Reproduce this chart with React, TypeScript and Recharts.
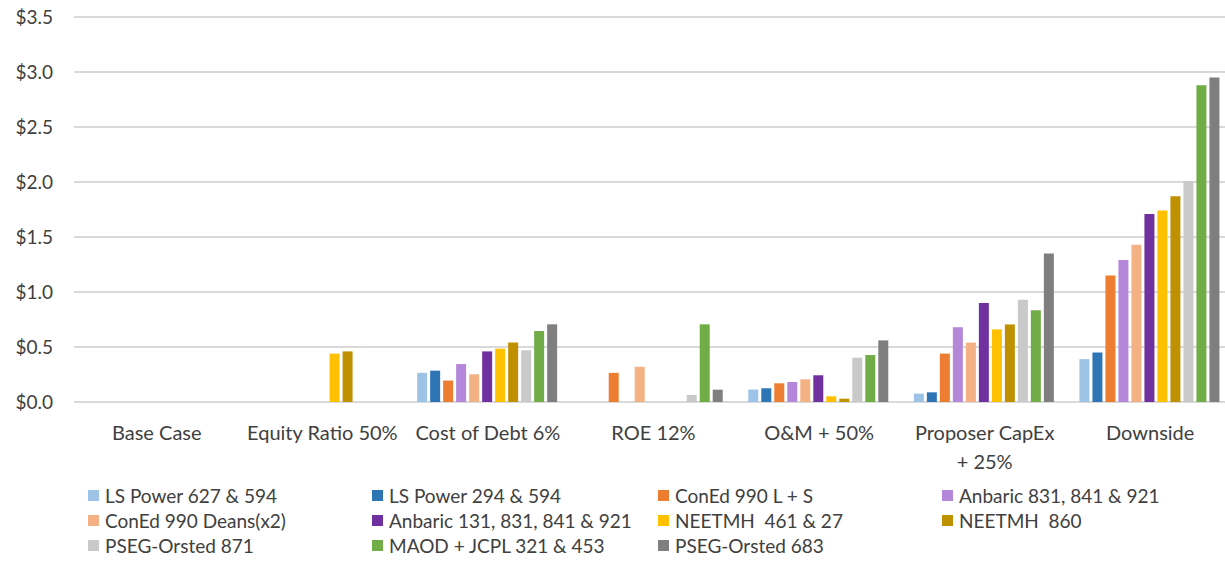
import React from 'react';
import { BarChart, Bar, XAxis, YAxis, CartesianGrid } from 'recharts';

const categories = [
  'Base Case',
  'Equity Ratio 50%',
  'Cost of Debt 6%',
  'ROE 12%',
  'O&M + 50%',
  'Proposer CapEx + 25%',
  'Downside',
];

const yTicks = [0, 0.5, 1, 1.5, 2, 2.5, 3, 3.5];

// values per scenario, in category order (null = no bar)
const lsPower627 = [null, null, 0.265, null, 0.113, 0.076, 0.39];
const lsPower294 = [null, null, 0.285, null, 0.125, 0.088, 0.45];
const conEdLS = [null, null, 0.195, 0.265, 0.17, 0.44, 1.15];
const anbaric831 = [null, null, 0.345, null, 0.182, 0.68, 1.29];
const conEdDeans = [null, null, 0.252, 0.32, 0.206, 0.54, 1.43];
const anbaric131 = [null, null, 0.46, null, 0.243, 0.9, 1.71];
const neetmh461 = [null, 0.44, 0.485, null, 0.052, 0.66, 1.74];
const neetmh860 = [null, 0.46, 0.54, null, 0.03, 0.705, 1.87];
const pseg871 = [null, null, 0.47, 0.064, 0.403, 0.93, 2.01];
const maod = [null, null, 0.645, 0.706, 0.427, 0.835, 2.88];
const pseg683 = [null, null, 0.706, 0.112, 0.56, 1.35, 2.95];

const series = [
  { key: 'lsPower627', name: 'LS Power 627 & 594', color: '#9dc3e6', values: lsPower627 },
  { key: 'lsPower294', name: 'LS Power 294 & 594', color: '#2e75b6', values: lsPower294 },
  { key: 'conEdLS', name: 'ConEd 990 L + S', color: '#ed7d31', values: conEdLS },
  { key: 'anbaric831', name: 'Anbaric 831, 841 & 921', color: '#b587da', values: anbaric831 },
  { key: 'conEdDeans', name: 'ConEd 990 Deans(x2)', color: '#f4b183', values: conEdDeans },
  { key: 'anbaric131', name: 'Anbaric 131, 831, 841 & 921', color: '#7030a0', values: anbaric131 },
  { key: 'neetmh461', name: 'NEETMH  461 & 27', color: '#ffc000', values: neetmh461 },
  { key: 'neetmh860', name: 'NEETMH  860', color: '#bf9000', values: neetmh860 },
  { key: 'pseg871', name: 'PSEG-Orsted 871', color: '#c9c9c9', values: pseg871 },
  { key: 'maod', name: 'MAOD + JCPL 321 & 453', color: '#70ad47', values: maod },
  { key: 'pseg683', name: 'PSEG-Orsted 683', color: '#7f7f7f', values: pseg683 },
];

const data = categories.map((name, i) => {
  const row: Record<string, any> = { name };
  series.forEach(s => {
    row[s.key] = s.values[i];
  });
  return row;
});

const FONT = 'Lato, "Open Sans", sans-serif';
const TEXT = '#404040';

// wraps the long CapEx label onto two lines like the original
const CategoryTick = ({ x, y, payload }: any) => {
  const label: string = payload.value;
  const lines = label === 'Proposer CapEx + 25%' ? ['Proposer CapEx', '+ 25%'] : [label];
  return (
    <text x={x} y={y} textAnchor="middle" fill={TEXT} fontSize={20} fontFamily={FONT}>
      {lines.map((l, i) => (
        <tspan key={i} x={x} dy={i === 0 ? 38 : 29}>
          {l}
        </tspan>
      ))}
    </text>
  );
};

const legendCols = [88, 372, 658, 942];
const legendRows = [495, 520, 545];

export default function App() {
  return (
    <div
      style={{
        position: 'absolute',
        left: 0,
        top: 0,
        width: 1225,
        height: 561,
        overflow: 'hidden',
        background: '#fff',
        fontFamily: FONT,
      }}
    >
      <BarChart
        width={1240}
        height={561}
        data={data}
        margin={{ top: 17, right: 7, left: 0, bottom: 99 }}
        barCategoryGap={12}
        barGap={3}
      >
        <CartesianGrid vertical={false} stroke="#d9d9d9" strokeWidth={2} />
        <XAxis
          dataKey="name"
          axisLine={false}
          tickLine={false}
          tickSize={0}
          tickMargin={0}
          interval={0}
          tick={<CategoryTick />}
          height={60}
        />
        <YAxis
          width={74}
          domain={[0, 3.5]}
          ticks={yTicks}
          axisLine={false}
          tickLine={false}
          tickSize={0}
          tickMargin={21}
          tick={{ fill: TEXT, fontSize: 19, fontFamily: FONT }}
          tickFormatter={(v: number) => `$${v.toFixed(1)}`}
        />
        {series.map(s => (
          <Bar key={s.key} dataKey={s.key} name={s.name} fill={s.color} isAnimationActive={false} />
        ))}
      </BarChart>

      {series.map((s, i) => {
        const col = i % 4;
        const row = Math.floor(i / 4);
        return (
          <div
            key={s.key}
            style={{
              position: 'absolute',
              left: legendCols[col],
              top: legendRows[row] - 11,
              height: 22,
              display: 'flex',
              alignItems: 'center',
              whiteSpace: 'pre',
              fontSize: 19,
              color: TEXT,
            }}
          >
            <span style={{ width: 11, height: 11, background: s.color, marginRight: 6, display: 'inline-block' }} />
            {s.name}
          </div>
        );
      })}
    </div>
  );
}
